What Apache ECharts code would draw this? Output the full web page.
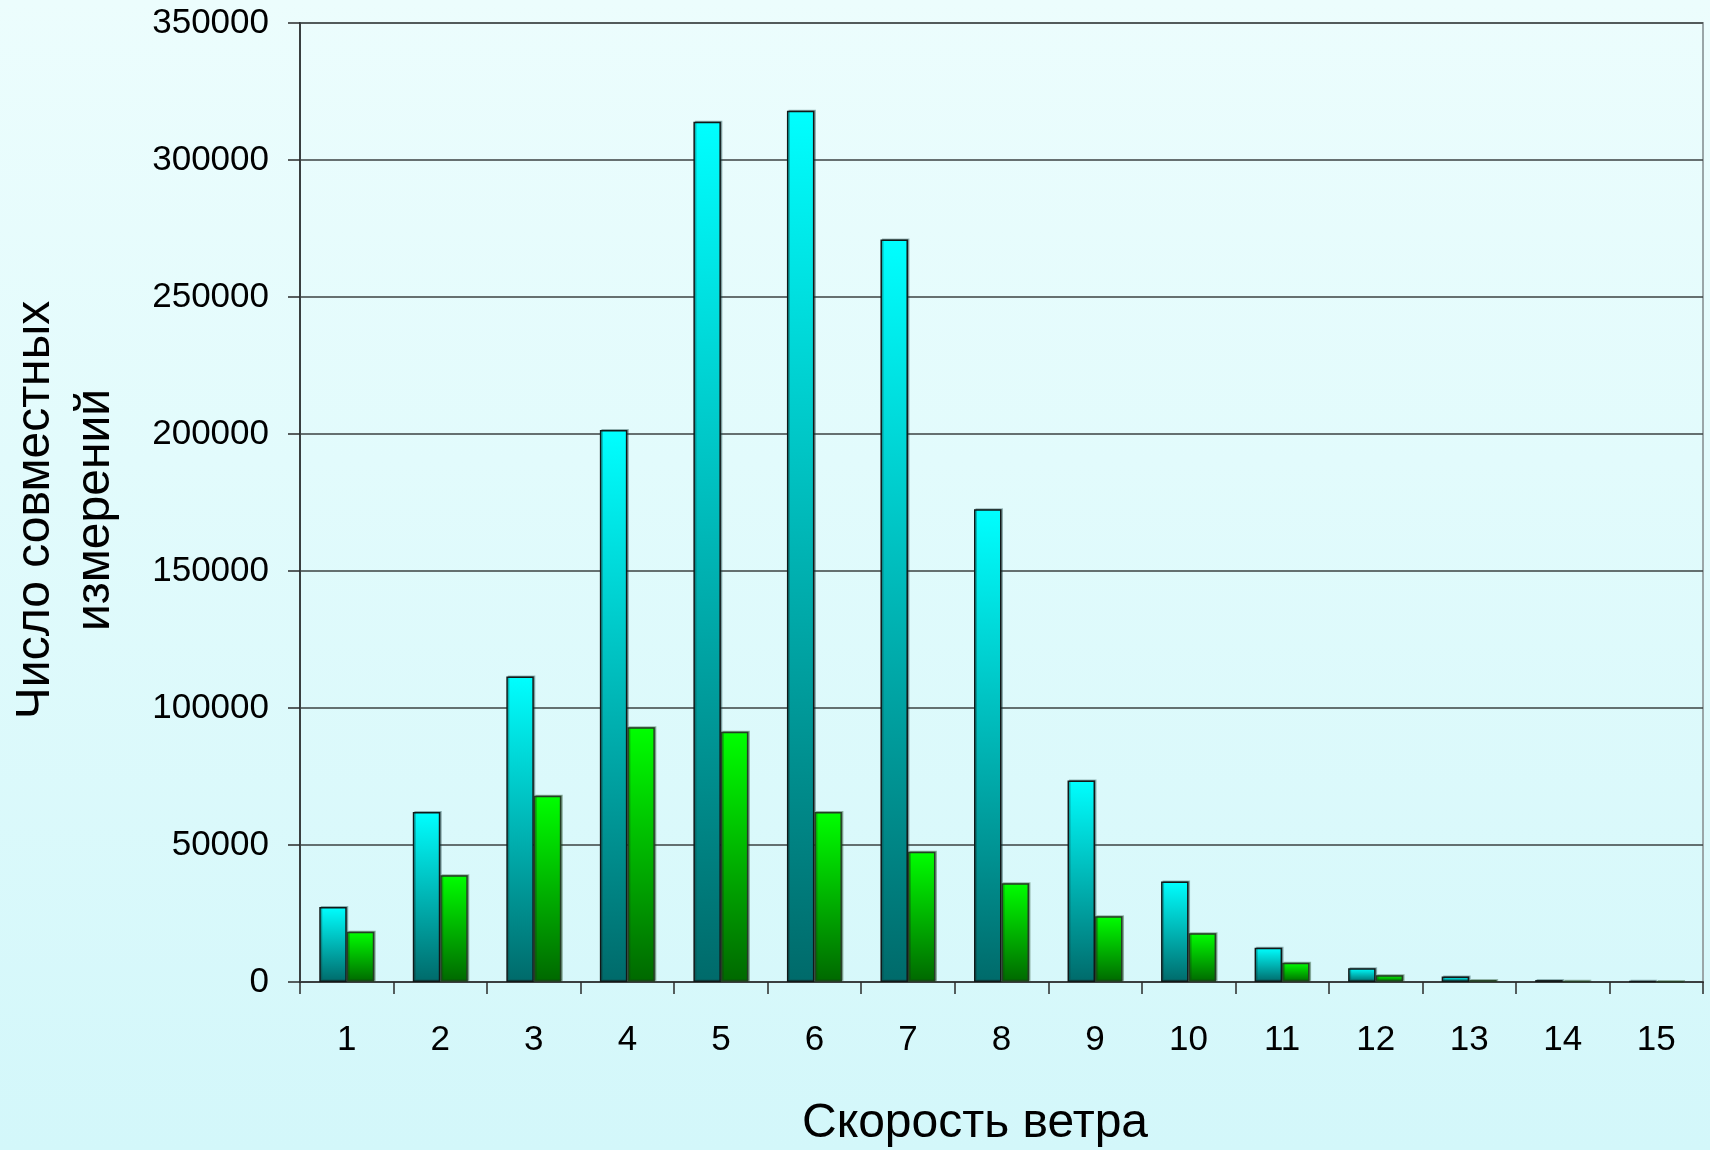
<!DOCTYPE html>
<html>
<head>
<meta charset="utf-8">
<script src="https://cdn.jsdelivr.net/npm/echarts@6/dist/echarts.min.js"></script>
<style>
  html, body { margin: 0; padding: 0; }
  body {
    width: 1710px; height: 1150px;
    background: linear-gradient(180deg, #ecfdfd 0%, #e2fbfc 40%, #d3f7fa 100%);
  }
  #chart { width: 1710px; height: 1150px; }
</style>
</head>
<body>
<div id="chart"></div>
<script>
// Wind speed classes (m/s)
const speeds = ['1', '2', '3', '4', '5', '6', '7', '8', '9', '10', '11', '12', '13', '14', '15'];
// Number of joint measurements, first series (cyan)
const countsA = [27400, 62000, 111500, 201500, 314000, 318000, 271000, 172500, 73500, 36700, 12500, 5000, 2000, 700, 300];
// Number of joint measurements, second series (green)
const countsB = [18300, 39000, 68000, 93000, 91300, 62000, 47500, 36000, 24000, 17800, 7000, 2500, 700, 300, 150];
// Value axis ticks
const yTicks = [0, 50000, 100000, 150000, 200000, 250000, 300000, 350000];

const FONT = '"Liberation Sans", Arial, sans-serif';

const chart = echarts.init(document.getElementById('chart'), null, { renderer: 'canvas' });

function barFill(top, bottom) {
  return new echarts.graphic.LinearGradient(0, 0, 0, 1, [
    { offset: 0, color: top },
    { offset: 1, color: bottom }
  ]);
}

chart.setOption({
  backgroundColor: 'transparent',
  animation: false,
  grid: {
    left: 300, right: 7, top: 23, bottom: 168,
    show: true, borderColor: '#9aa6a8', borderWidth: 2, backgroundColor: 'transparent'
  },
  xAxis: {
    type: 'category',
    data: speeds,
    boundaryGap: true,
    axisLine: { lineStyle: { color: '#3a3f40', width: 2 } },
    axisTick: { show: true, length: 12, inside: false, alignWithLabel: false, lineStyle: { color: '#2a2a2a', width: 1.5 } },
    axisLabel: { color: '#000', fontFamily: FONT, fontSize: 35, margin: 41 },
    splitLine: { show: false }
  },
  yAxis: {
    type: 'value',
    min: yTicks[0],
    max: yTicks[yTicks.length - 1],
    interval: yTicks[1] - yTicks[0],
    axisLine: { show: true, lineStyle: { color: '#3a3f40', width: 2 } },
    axisTick: { show: true, length: 12, lineStyle: { color: '#2a2a2a', width: 1.5 } },
    axisLabel: { color: '#000', fontFamily: FONT, fontSize: 35, margin: 31, formatter: v => String(v) },
    splitLine: { show: true, lineStyle: { color: '#3b4242', width: 1.5 } }
  },
  series: [
    {
      type: 'bar',
      data: countsA,
      barWidth: 27.5,
      barGap: '0%',
      itemStyle: {
        color: barFill('#00ffff', '#006a6a'),
        borderColor: '#111818',
        borderWidth: 1.5,
        shadowColor: 'rgba(20,60,60,0.35)',
        shadowOffsetX: 1.5,
        shadowOffsetY: -1
      }
    },
    {
      type: 'bar',
      data: countsB,
      barWidth: 27.5,
      barGap: '0%',
      itemStyle: {
        color: barFill('#00ff00', '#006800'),
        borderColor: '#253d25',
        borderWidth: 1.5,
        shadowColor: 'rgba(20,60,20,0.35)',
        shadowOffsetX: 1.5,
        shadowOffsetY: -1
      }
    }
  ],
  graphic: [
    {
      type: 'text',
      x: 66, y: 510,
      rotation: Math.PI / 2,
      style: {
        text: 'Число совместных\nизмерений',
        fontFamily: FONT, fontSize: 48, lineHeight: 60,
        fill: '#000', textAlign: 'center', textVerticalAlign: 'middle'
      }
    },
    {
      type: 'text',
      x: 975, y: 1124,
      style: {
        text: 'Скорость ветра',
        fontFamily: FONT, fontSize: 48,
        fill: '#000', textAlign: 'center', textVerticalAlign: 'middle'
      }
    }
  ]
});
</script>
</body>
</html>
